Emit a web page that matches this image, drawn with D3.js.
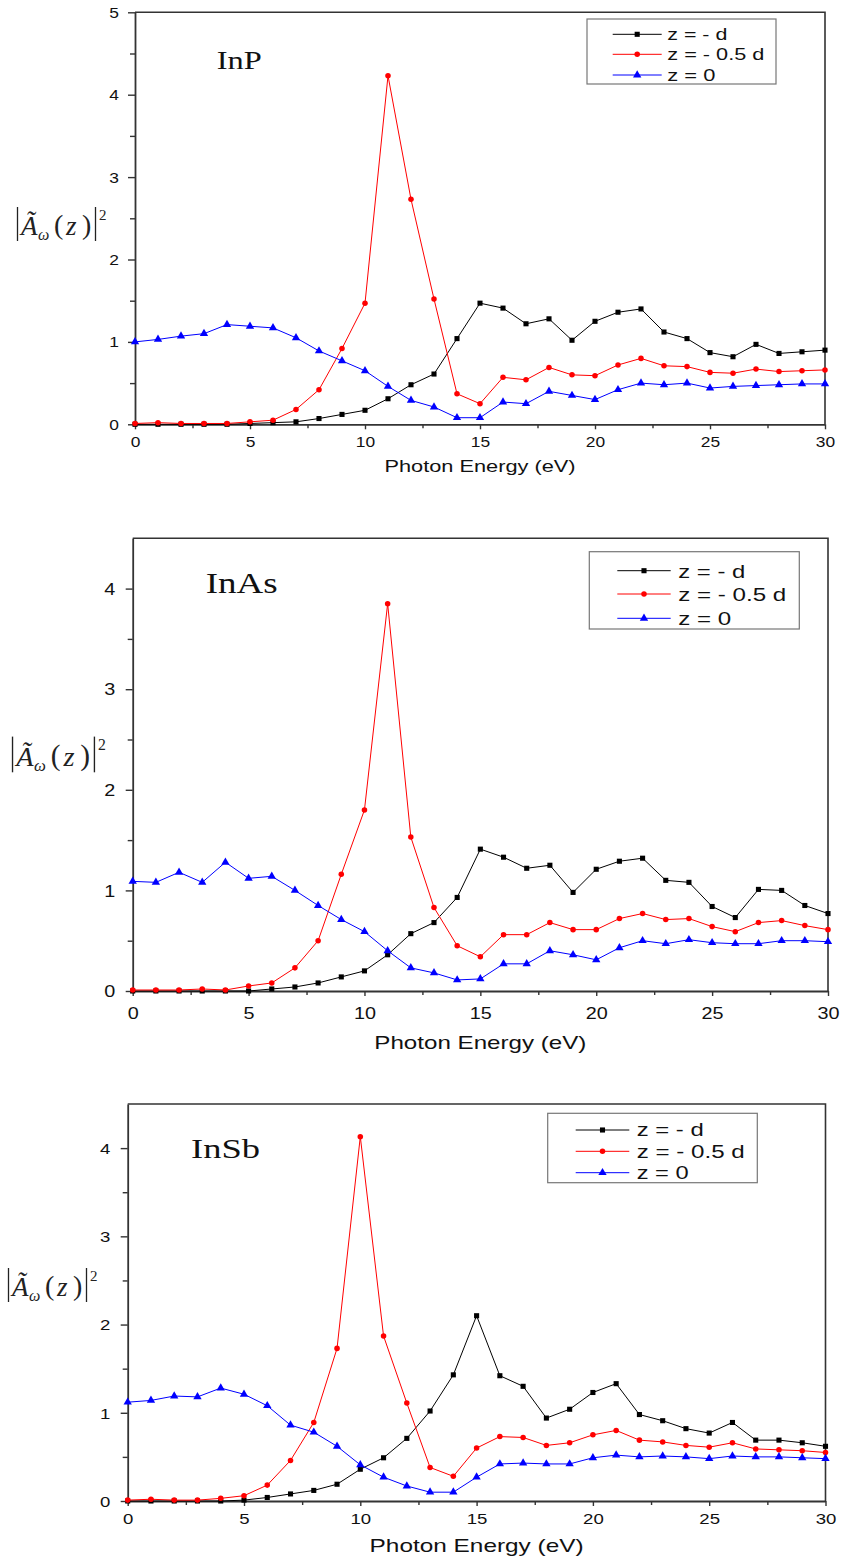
<!DOCTYPE html>
<html>
<head>
<meta charset="utf-8">
<script src="https://cdn.jsdelivr.net/npm/d3@7"></script>
<style>
  body { margin: 0; background: #fff; }
  svg { display: block; }
</style>
</head>
<body>
<svg id="chart"></svg>
<script>
// photon energy (eV), same for every panel
const energy = [0,1,2,3,4,5,6,7,8,9,10,11,12,13,14,15,16,17,18,19,20,21,22,23,24,25,26,27,28,29,30];

const seriesNames = ["z = - d", "z = - 0.5 d", "z = 0"];
const yTicksInP = [0, 1, 2, 3, 4, 5];
const yTicks45 = [0, 1, 2, 3, 4];
const xTicks = [0, 5, 10, 15, 20, 25, 30];

// InP
const inpMinusD = [0,0,0,0,0,0.01,0.02,0.03,0.07,0.12,0.17,0.31,0.48,0.61,1.04,1.47,1.41,1.22,1.28,1.02,1.25,1.36,1.40,1.12,1.04,0.87,0.82,0.97,0.86,0.88,0.90];
const inpHalfD = [0.01,0.02,0.01,0.01,0.01,0.03,0.05,0.18,0.42,0.92,1.47,4.23,2.73,1.52,0.37,0.25,0.57,0.54,0.69,0.60,0.59,0.72,0.80,0.71,0.70,0.63,0.62,0.67,0.64,0.65,0.66];
const inpZero = [1.00,1.03,1.07,1.10,1.21,1.19,1.17,1.05,0.89,0.77,0.65,0.46,0.29,0.21,0.08,0.08,0.27,0.25,0.40,0.35,0.30,0.42,0.50,0.48,0.50,0.44,0.46,0.47,0.48,0.49,0.49];

// InAs
const inasMinusD = [0,0,0,0,0,0,0.02,0.04,0.08,0.14,0.20,0.36,0.57,0.68,0.93,1.41,1.33,1.22,1.25,0.98,1.21,1.29,1.32,1.10,1.08,0.84,0.73,1.01,1.00,0.85,0.77];
const inasHalfD = [0.01,0.01,0.01,0.02,0.01,0.05,0.08,0.23,0.50,1.16,1.80,3.85,1.53,0.83,0.45,0.34,0.56,0.56,0.68,0.61,0.61,0.72,0.77,0.71,0.72,0.64,0.59,0.68,0.70,0.65,0.61];
const inasZero = [1.09,1.08,1.18,1.08,1.28,1.12,1.14,1.00,0.85,0.71,0.59,0.40,0.23,0.18,0.11,0.12,0.27,0.27,0.40,0.36,0.31,0.43,0.50,0.47,0.51,0.48,0.47,0.47,0.50,0.50,0.49];

// InSb
const insbMinusD = [0,0,0,0,0,0.01,0.04,0.08,0.12,0.19,0.36,0.49,0.71,1.02,1.43,2.10,1.42,1.30,0.94,1.04,1.23,1.33,0.98,0.91,0.82,0.77,0.89,0.69,0.69,0.66,0.62];
const insbHalfD = [0.01,0.02,0.01,0.01,0.03,0.06,0.18,0.46,0.89,1.73,4.13,1.87,1.11,0.38,0.28,0.60,0.73,0.72,0.63,0.66,0.75,0.80,0.69,0.67,0.63,0.61,0.66,0.59,0.58,0.57,0.55];
const insbZero = [1.12,1.14,1.19,1.18,1.28,1.21,1.08,0.86,0.78,0.62,0.41,0.27,0.17,0.10,0.10,0.27,0.42,0.43,0.42,0.42,0.49,0.52,0.50,0.51,0.50,0.48,0.51,0.50,0.50,0.49,0.48];

const colors = ["#000000", "#ff0000", "#0000ff"];
const symbols = [d3.symbolSquare, d3.symbolCircle, d3.symbolTriangle];
const symSize = [26, 24, 30];

const W = 842, H = 1559;
const svg = d3.select("#chart").attr("width", W).attr("height", H);

// layout of each panel (pixels)
const panels = [
  { name: "InP", data: [inpMinusD, inpHalfD, inpZero], yMax: 5, yTicks: yTicksInP,
    left: 135, right: 825, top: 12.3, bottom: 424.3,
    tickFont: 14.5, tickOffX: 18, tickOffY: 16,
    label: { x: 216.7, y: 69, size: 25, w: 45 },
    legend: { x: 587, y: 19, w: 189, h: 65, rows: [34.3, 54.3, 75], x0: 612.7, x1: 661.7, tx: 667.3, size: 16, widths: [60, 97, 48] },
    xTitle: { y: 472, size: 17, w: 191 },
    yLab: { x: 17, y: 235, s: 1 } },
  { name: "InAs", data: [inasMinusD, inasHalfD, inasZero], yMax: 4.5, yTicks: yTicks45,
    left: 132.7, right: 828, top: 538.3, bottom: 991,
    tickFont: 16.5, tickOffX: 22, tickOffY: 17.5,
    label: { x: 205.7, y: 593.3, size: 30, w: 72 },
    legend: { x: 589.3, y: 551.7, w: 210, h: 77.3, rows: [570.7, 594, 618.3], x0: 617.3, x1: 670.7, tx: 678.3, size: 19, widths: [67, 108, 53] },
    xTitle: { y: 1049, size: 19, w: 212 },
    yLab: { x: 12, y: 766, s: 1.05 } },
  { name: "InSb", data: [insbMinusD, insbHalfD, insbZero], yMax: 4.5, yTicks: yTicks45,
    left: 127.7, right: 825.5, top: 1104, bottom: 1501,
    tickFont: 15.5, tickOffX: 18, tickOffY: 17.5,
    label: { x: 191, y: 1158.3, size: 28, w: 69 },
    legend: { x: 547.7, y: 1113.3, w: 209.6, h: 69.4, rows: [1130, 1151.3, 1172.7], x0: 575.7, x1: 629.3, tx: 636.7, size: 18, widths: [67, 108, 52] },
    xTitle: { y: 1552, size: 19, w: 214 },
    yLab: { x: 8, y: 1296, s: 1 } }
];

const sans = "Arial, 'Liberation Sans', Helvetica, sans-serif";
const serif = "'Times New Roman', 'Liberation Serif', 'DejaVu Serif', serif";
const axisColor = "#333";
const stretch = 1.2;

function drawPanel(p) {
  const g = svg.append("g").attr("class", "panel-" + p.name);

  const x = d3.scaleLinear().domain([0, 30]).range([p.left, p.right]);
  const y = d3.scaleLinear().domain([0, p.yMax]).range([p.bottom, p.top]);

  // frame (top and right sides)
  g.append("path")
    .attr("d", `M${p.left},${p.top}H${p.right}V${p.bottom}`)
    .attr("fill", "none").attr("stroke", axisColor).attr("stroke-width", 1.6);

  // minor ticks
  const xMinor = [2.5, 7.5, 12.5, 17.5, 22.5, 27.5];
  const yMinor = d3.range(0.5, p.yMax, 1);
  g.append("g").attr("transform", `translate(0,${p.bottom})`)
    .call(d3.axisBottom(x).tickValues(xMinor).tickFormat("").tickSize(4).tickSizeOuter(0))
    .call(a => a.select(".domain").remove())
    .call(a => a.selectAll("line").attr("stroke", axisColor).attr("stroke-width", 1.4));
  g.append("g").attr("transform", `translate(${p.left},0)`)
    .call(d3.axisLeft(y).tickValues(yMinor).tickFormat("").tickSize(5).tickSizeOuter(0))
    .call(a => a.select(".domain").remove())
    .call(a => a.selectAll("line").attr("stroke", axisColor).attr("stroke-width", 1.4));

  // major axes
  const xAxis = g.append("g").attr("transform", `translate(0,${p.bottom})`)
    .call(d3.axisBottom(x).tickValues(xTicks).tickFormat(d3.format("d")).tickSize(5).tickSizeOuter(0));
  const yAxis = g.append("g").attr("transform", `translate(${p.left},0)`)
    .call(d3.axisLeft(y).tickValues(p.yTicks).tickFormat(d3.format("d")).tickSize(7).tickSizeOuter(0));

  [xAxis, yAxis].forEach(a => {
    a.select(".domain").attr("stroke", axisColor).attr("stroke-width", 1.8);
    a.selectAll(".tick line").attr("stroke", axisColor).attr("stroke-width", 1.4);
    a.selectAll("text").attr("fill", "#111").attr("font-family", sans).attr("font-size", p.tickFont);
  });
  xAxis.selectAll("text")
    .attr("y", p.tickOffX).attr("dy", "0.35em")
    .attr("transform", `scale(${stretch},1)`);
  yAxis.selectAll("text")
    .attr("x", -p.tickOffY / stretch).attr("dy", "0.35em")
    .attr("transform", `scale(${stretch},1)`);

  // series
  const line = d3.line().x((d, i) => x(energy[i])).y(d => y(d));
  p.data.forEach((vals, s) => {
    const sg = g.append("g");
    sg.append("path").datum(vals)
      .attr("d", line).attr("fill", "none")
      .attr("stroke", colors[s]).attr("stroke-width", 1);
    sg.selectAll("path.mark").data(vals).join("path")
      .attr("class", "mark")
      .attr("transform", (d, i) => `translate(${x(energy[i])},${y(d)})`)
      .attr("d", d3.symbol().type(symbols[s]).size(symSize[s]))
      .attr("fill", colors[s]);
  });

  // material label
  g.append("text")
    .attr("x", p.label.x).attr("y", p.label.y)
    .attr("font-family", serif).attr("font-size", p.label.size)
    .attr("textLength", p.label.w).attr("lengthAdjust", "spacingAndGlyphs")
    .attr("fill", "#111")
    .text(p.name);

  // legend
  const L = p.legend;
  const lg = g.append("g");
  lg.append("rect").attr("x", L.x).attr("y", L.y).attr("width", L.w).attr("height", L.h)
    .attr("fill", "#fff").attr("stroke", "#777").attr("stroke-width", 1.2);
  seriesNames.forEach((n, s) => {
    const ry = L.rows[s];
    lg.append("line").attr("x1", L.x0).attr("x2", L.x1).attr("y1", ry).attr("y2", ry)
      .attr("stroke", colors[s]).attr("stroke-width", 1);
    lg.append("path")
      .attr("transform", `translate(${(L.x0 + L.x1) / 2},${ry})`)
      .attr("d", d3.symbol().type(symbols[s]).size(symSize[s]))
      .attr("fill", colors[s]);
    lg.append("text").attr("x", L.tx).attr("y", ry).attr("dy", "0.36em")
      .attr("font-family", sans).attr("font-size", L.size).attr("fill", "#111")
      .attr("textLength", L.widths[s]).attr("lengthAdjust", "spacingAndGlyphs")
      .text(n);
  });

  // x axis title
  g.append("text")
    .attr("x", (p.left + p.right) / 2).attr("y", p.xTitle.y)
    .attr("text-anchor", "middle")
    .attr("font-family", sans).attr("font-size", p.xTitle.size).attr("fill", "#111")
    .attr("textLength", p.xTitle.w).attr("lengthAdjust", "spacingAndGlyphs")
    .text("Photon Energy (eV)");

  // y axis label |Ã_ω(z)|^2
  const yl = g.append("g")
    .attr("transform", `translate(${p.yLab.x},${p.yLab.y}) scale(${p.yLab.s})`)
    .attr("fill", "#222").attr("font-family", serif);
  yl.append("line").attr("x1", 0.5).attr("x2", 0.5).attr("y1", -28).attr("y2", 6)
    .attr("stroke", "#222").attr("stroke-width", 1.3);
  yl.append("line").attr("x1", 78.5).attr("x2", 78.5).attr("y1", -28).attr("y2", 6)
    .attr("stroke", "#222").attr("stroke-width", 1.3);
  yl.append("text").attr("x", 4).attr("y", 0).attr("font-size", 27).attr("font-style", "italic").text("Ã");
  yl.append("text").attr("x", 21).attr("y", 5).attr("font-size", 16).attr("font-style", "italic").text("ω");
  yl.append("text").attr("x", 37).attr("y", -1).attr("font-size", 28).text("(");
  yl.append("text").attr("x", 49).attr("y", 0).attr("font-size", 27).attr("font-style", "italic").text("z");
  yl.append("text").attr("x", 65).attr("y", -1).attr("font-size", 28).text(")");
  yl.append("text").attr("x", 82).attr("y", -15).attr("font-size", 15).text("2");
}

panels.forEach(drawPanel);
</script>
</body>
</html>
